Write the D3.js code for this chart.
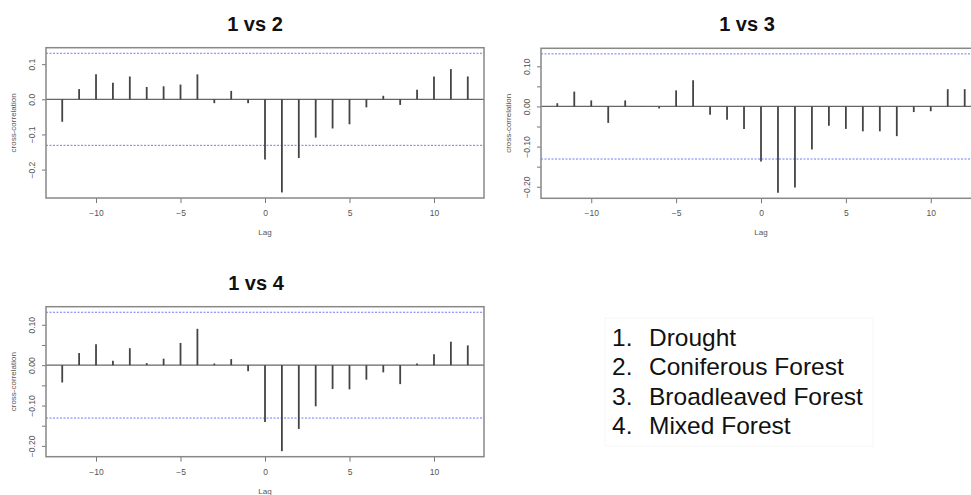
<!DOCTYPE html>
<html>
<head>
<meta charset="utf-8">
<script src="https://cdn.jsdelivr.net/npm/d3@7"></script>
<style>
  html, body { margin: 0; padding: 0; background: #fff; }
  svg { display: block; font-family: Arial, "Liberation Sans", sans-serif; }
</style>
</head>
<body>
<svg id="chart" width="971" height="495"></svg>
<script>
'use strict';

// Data read from the three R ccf() plots
const lags = [-12, -11, -10, -9, -8, -7, -6, -5, -4, -3, -2, -1, 0, 1, 2, 3, 4, 5, 6, 7, 8, 9, 10, 11, 12];
const ccf12 = [-0.064, 0.029, 0.071, 0.047, 0.065, 0.035, 0.037, 0.042, 0.071, -0.011, 0.024, -0.011,
  -0.171, -0.265, -0.167, -0.109, -0.083, -0.071, -0.023, 0.010, -0.016, 0.027, 0.065, 0.086, 0.065];
const ccf13 = [0.008, 0.037, 0.015, -0.041, 0.015, 0.001, -0.005, 0.040, 0.065, -0.021, -0.033, -0.056,
  -0.137, -0.215, -0.202, -0.107, -0.048, -0.056, -0.062, -0.062, -0.074, -0.014, -0.012, 0.043, 0.043];
const ccf14 = [-0.043, 0.030, 0.052, 0.011, 0.042, 0.005, 0.016, 0.055, 0.090, 0.004, 0.015, -0.015,
  -0.141, -0.213, -0.158, -0.102, -0.059, -0.060, -0.036, -0.018, -0.047, 0.004, 0.027, 0.058, 0.049];
const confLimit = 0.131;
const xTicks = [-10, -5, 0, 5, 10];
const yTicksCoarse = [-0.2, -0.1, 0, 0.1];
const yTicksFine = [-0.2, -0.15, -0.1, -0.05, 0, 0.05, 0.1];
const titles = ['1 vs 2', '1 vs 3', '1 vs 4'];
const legendItems = ['Drought', 'Coniferous Forest', 'Broadleaved Forest', 'Mixed Forest'];

class CcfPanel {
  /**
   * @description One cross-correlation panel, drawn like R's plot.acf
   * @param {object} options - svg, box, values, yTicks, yFormat, title
   **/
  constructor(options) {
    this._svg = options.svg;
    this._box = options.box;
    this._values = options.values;
    this._yTicks = options.yTicks;
    this._yFormat = options.yFormat;
    this._title = options.title;

    this._initScales();
    this._draw();
  }

  _initScales() {
    // R pads the data range (incl. confidence limits) by 4% on each side
    const lo = Math.min(d3.min(this._values), -confLimit);
    const hi = Math.max(d3.max(this._values), confLimit);
    const padY = (hi - lo) * 0.04;
    const padX = (d3.max(lags) - d3.min(lags)) * 0.04;

    this._x = d3.scaleLinear()
      .domain([d3.min(lags) - padX, d3.max(lags) + padX])
      .range([this._box.left, this._box.right]);
    this._y = d3.scaleLinear()
      .domain([lo - padY, hi + padY])
      .range([this._box.bottom, this._box.top]);
  }

  _draw() {
    const g = this._svg.append('g');
    const b = this._box;
    const x = this._x;
    const y = this._y;

    // Confidence limits
    g.selectAll('line.ci')
      .data([confLimit, -confLimit])
      .enter()
      .append('line')
      .attr('x1', b.left).attr('x2', b.right)
      .attr('y1', d => y(d)).attr('y2', d => y(d))
      .attr('stroke', '#6f78ff')
      .attr('stroke-width', 1)
      .attr('stroke-dasharray', '2,1.5');

    // Zero line
    g.append('line')
      .attr('x1', b.left).attr('x2', b.right)
      .attr('y1', y(0)).attr('y2', y(0))
      .attr('stroke', '#666')
      .attr('stroke-width', 1.3);

    // Spikes
    g.selectAll('line.spike')
      .data(lags.map((lag, i) => ({ lag, v: this._values[i] })))
      .enter()
      .append('line')
      .attr('x1', d => x(d.lag)).attr('x2', d => x(d.lag))
      .attr('y1', y(0)).attr('y2', d => y(d.v))
      .attr('stroke', '#444')
      .attr('stroke-width', 1.8);

    // Axes
    const xAxis = g.append('g')
      .attr('transform', `translate(0,${b.bottom})`)
      .call(d3.axisBottom(x).tickValues(xTicks).tickSize(5).tickFormat(d3.format('d')));
    xAxis.select('.domain').remove();
    xAxis.selectAll('line').attr('stroke', '#777');
    xAxis.selectAll('text')
      .attr('y', 18).attr('dy', 0)
      .attr('fill', '#555')
      .style('font-size', '8.5px');

    const yAxis = g.append('g')
      .attr('transform', `translate(${b.left},0)`)
      .call(d3.axisLeft(y).tickValues(this._yTicks).tickSize(4)
        .tickFormat(d => (Math.abs(Math.round(d * 100)) % 10 === 0 ? this._yFormat(d) : '')));
    yAxis.select('.domain').remove();
    yAxis.selectAll('line').attr('stroke', '#777');
    yAxis.selectAll('text')
      .attr('transform', 'rotate(-90)')
      .attr('x', 0).attr('y', -11).attr('dy', 0)
      .attr('text-anchor', 'middle')
      .attr('fill', '#555')
      .style('font-size', '8.5px');

    // Box
    g.append('rect')
      .attr('x', b.left).attr('y', b.top)
      .attr('width', b.right - b.left).attr('height', b.bottom - b.top)
      .attr('fill', 'none')
      .attr('stroke', '#888')
      .attr('stroke-width', 1.5);

    // Axis titles
    g.append('text')
      .attr('x', x(0)).attr('y', b.bottom + 37)
      .attr('text-anchor', 'middle')
      .attr('fill', '#555')
      .style('font-size', '8px')
      .text('Lag');

    g.append('text')
      .attr('transform', `translate(${b.left - 30},${(b.top + b.bottom) / 2}) rotate(-90)`)
      .attr('text-anchor', 'middle')
      .attr('fill', '#555')
      .style('font-size', '8px')
      .text('cross-correlation');

    // Panel title
    this._svg.append('text')
      .attr('x', this._title.x).attr('y', this._title.y)
      .attr('text-anchor', 'middle')
      .attr('fill', '#111')
      .style('font-size', '20px')
      .style('font-weight', 'bold')
      .text(this._title.text);
  }
}

const svg = d3.select('#chart');

new CcfPanel({
  svg: svg,
  box: { left: 46, right: 484, top: 47.7, bottom: 198 },
  values: ccf12,
  yTicks: yTicksCoarse,
  yFormat: d3.format('.1f'),
  title: { text: titles[0], x: 255, y: 31 }
});

new CcfPanel({
  svg: svg,
  box: { left: 541, right: 981, top: 48.3, bottom: 198.3 },
  values: ccf13,
  yTicks: yTicksFine,
  yFormat: d3.format('.2f'),
  title: { text: titles[1], x: 747, y: 31 }
});

new CcfPanel({
  svg: svg,
  box: { left: 46, right: 484, top: 306.7, bottom: 456.7 },
  values: ccf14,
  yTicks: yTicksFine,
  yFormat: d3.format('.2f'),
  title: { text: titles[2], x: 256, y: 290 }
});

// Legend (numbered list)
svg.append('rect')
  .attr('x', 605).attr('y', 318)
  .attr('width', 268).attr('height', 128)
  .attr('fill', 'none')
  .attr('stroke', '#f6f6f6');

const legend = svg.append('g');
legend.selectAll('text.num')
  .data(legendItems)
  .enter()
  .append('text')
  .attr('x', 612)
  .attr('y', (d, i) => 346 + i * 29.4)
  .attr('fill', '#111')
  .style('font-size', '24.5px')
  .text((d, i) => `${i + 1}.`);
legend.selectAll('text.label')
  .data(legendItems)
  .enter()
  .append('text')
  .attr('x', 649)
  .attr('y', (d, i) => 346 + i * 29.4)
  .attr('fill', '#111')
  .style('font-size', '24.5px')
  .text(d => d);
</script>
</body>
</html>
